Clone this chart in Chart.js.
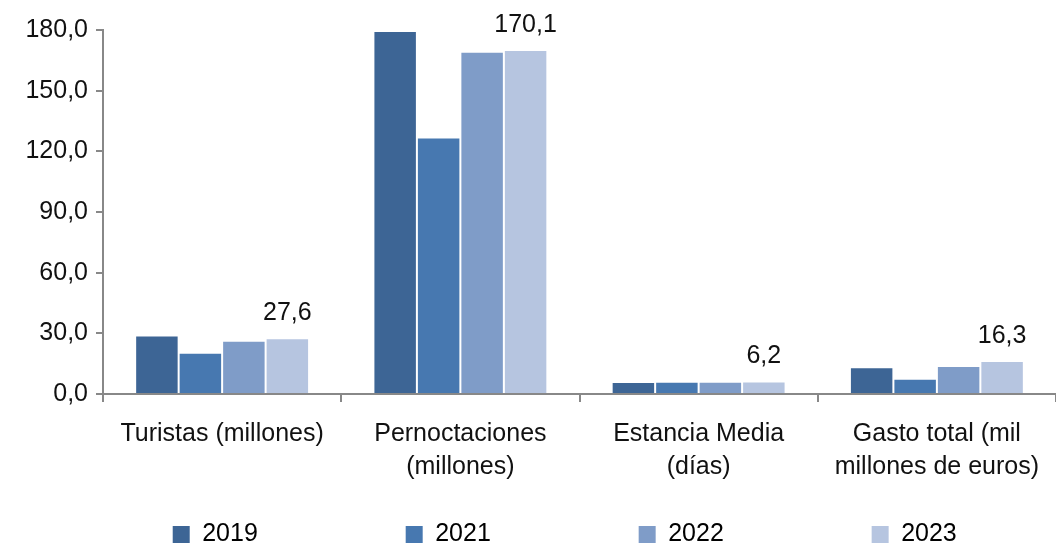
<!DOCTYPE html>
<html>
<head>
<meta charset="utf-8">
<script src="https://cdn.jsdelivr.net/npm/chart.js@4/dist/chart.umd.min.js"></script>
<style>
  html, body { margin: 0; padding: 0; background: #fff; }
  #wrap { width: 1056px; height: 545px; }
</style>
</head>
<body>
<div id="wrap"><canvas id="chart"></canvas></div>
<script>
// categories and series
const categories = [
    ["Turistas (millones)"],
    ["Pernoctaciones", "(millones)"],
    ["Estancia Media", "(días)"],
    ["Gasto total (mil", "millones de euros)"]
];
const years = ["2019", "2021", "2022", "2023"];
const v2019 = [28.9, 179.5, 5.9, 13.2];
const v2021 = [20.4, 126.9, 6.0, 7.5];
const v2022 = [26.3, 169.3, 6.1, 13.9];
const v2023 = [27.6, 170.1, 6.2, 16.3];
const yTicks = [0, 30, 60, 90, 120, 150, 180];

const colors = ["#3d6595", "#4778b0", "#7f9cc8", "#b6c5e0"];
const FONT = "'Liberation Sans', Arial, sans-serif";
const FS = 25;

function fmt(v) {
    return v.toFixed(1).replace('.', ',');
}

// value labels only over the 2023 bars
const labelPlugin = {
    id: 'lastLabels',
    afterDatasetsDraw(chart) {
        const ctx = chart.ctx;
        const meta = chart.getDatasetMeta(3);
        ctx.save();
        ctx.font = FS + "px " + FONT;
        ctx.fillStyle = "#111";
        ctx.textAlign = "center";
        ctx.textBaseline = "alphabetic";
        meta.data.forEach((bar, i) => {
            ctx.fillText(fmt(v2023[i]), bar.x, bar.y - 18);
        });
        ctx.restore();
    }
};

// push the legend a bit lower, closer to the bottom edge
const legendShift = {
    id: 'legendShift',
    afterLayout(chart) {
        chart.legend.top += 12;
        chart.legend.bottom += 12;
    }
};

const seriesData = [v2019, v2021, v2022, v2023];

new Chart(document.getElementById('chart'), {
    type: 'bar',
    data: {
        labels: categories,
        datasets: years.map((y, i) => ({
            label: y,
            data: seriesData[i],
            backgroundColor: colors[i],
            borderColor: 'rgba(255,255,255,0.5)',
            borderWidth: 1,
            categoryPercentage: 0.73,
            barPercentage: 1.0
        }))
    },
    options: {
        responsive: true,
        maintainAspectRatio: false,
        animation: false,
        layout: {padding: {top: 30, right: 0, left: 0, bottom: 0}},
        plugins: {
            tooltip: {enabled: false},
            legend: {
                position: 'bottom',
                align: 'end',
                labels: {
                    boxWidth: 17,
                    boxHeight: 17,
                    padding: 2,
                    color: '#111',
                    font: {size: FS, family: FONT},
                    // spaces spread the items out like the original
                    generateLabels(chart) {
                        return years.map((y, i) => ({
                            text: y + ' '.repeat(i < 3 ? 21 : 14),
                            fillStyle: colors[i],
                            strokeStyle: colors[i],
                            lineWidth: 0,
                            datasetIndex: i
                        }));
                    }
                }
            }
        },
        scales: {
            x: {
                afterFit(scale) {
                    scale.height = 114;
                },
                grid: {
                    offset: true,
                    drawOnChartArea: false,
                    drawTicks: true,
                    tickLength: 8,
                    color: '#888',
                    lineWidth: 2
                },
                border: {color: '#888', width: 2},
                ticks: {
                    color: '#111',
                    padding: 16,
                    maxRotation: 0,
                    font: {size: FS, family: FONT, lineHeight: 1.3}
                }
            },
            y: {
                min: 0,
                max: 180,
                afterBuildTicks(scale) {
                    scale.ticks = yTicks.map(v => ({value: v}));
                },
                afterFit(scale) {
                    scale.width = 103;
                },
                grid: {
                    drawOnChartArea: false,
                    drawTicks: true,
                    tickLength: 7,
                    color: '#888',
                    lineWidth: 2
                },
                border: {color: '#888', width: 2},
                ticks: {
                    color: '#111',
                    padding: 8,
                    font: {size: FS, family: FONT},
                    callback: v => fmt(v)
                }
            }
        }
    },
    plugins: [labelPlugin, legendShift]
});
</script>
</body>
</html>
